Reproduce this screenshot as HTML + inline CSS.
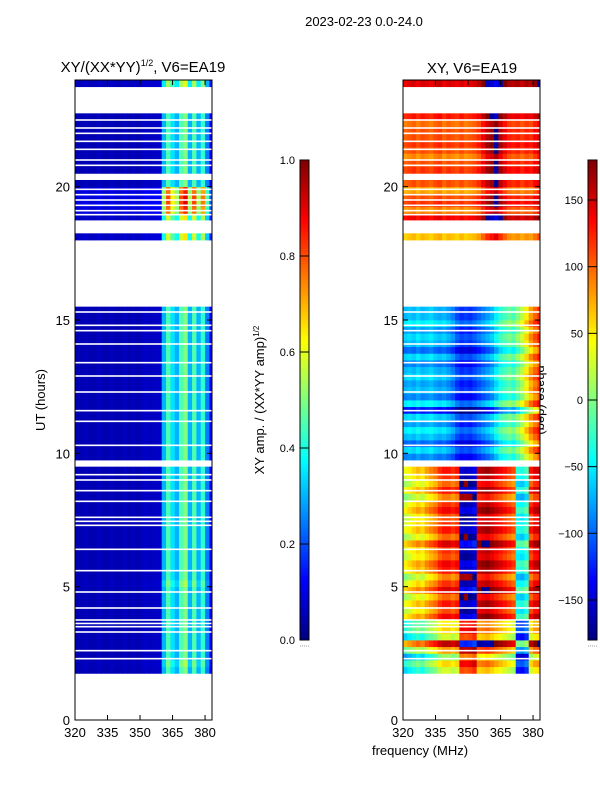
<!DOCTYPE html>
<html><head><meta charset="utf-8"><style>
body{margin:0;background:#fff;}
svg{display:block;font-family:"Liberation Sans","DejaVu Sans",sans-serif;}
</style></head><body>
<svg id="fig" width="600" height="800" viewBox="0 0 600 800" xmlns="http://www.w3.org/2000/svg">
<text x="364" y="26" font-size="13" text-anchor="middle">2023-02-23 0.0-24.0</text>
<text x="143" y="72" font-size="15" text-anchor="middle">XY/(XX*YY)<tspan font-size="9" dy="-6">1/2</tspan><tspan dy="6">, V6=EA19</tspan></text>
<text x="472" y="73" font-size="15" text-anchor="middle">XY, V6=EA19</text>
<text transform="translate(45,400) rotate(-90)" font-size="13" text-anchor="middle">UT (hours)</text>
<text x="420" y="755" font-size="13" text-anchor="middle">frequency (MHz)</text>
<text transform="translate(264,400) rotate(-90)" font-size="13" text-anchor="middle">XY amp. / (XX*YY amp)<tspan font-size="8" dy="-5">1/2</tspan></text>
<text transform="translate(537,400) rotate(90)" font-size="13" text-anchor="middle">phase (deg)</text>
<g id="left"></g>
<g id="right"></g>
<g id="cb"></g>
<g id="axes"></g>
</svg>
<script>
// time rows: 96 rows of 0.25 h; 1 = data present
const rowFlags = [0,0,0,0,0,0,0,1,1,1,1,1,1,1,1,1,1,1,1,1,1,1,1,1,1,1,1,1,1,1,1,1,1,1,1,1,1,1,0,1,1,1,1,1,1,1,1,1,1,1,1,1,1,1,1,1,1,1,1,1,1,1,0,0,0,0,0,0,0,0,0,0,1,0,0,1,1,1,1,1,1,0,1,1,1,1,1,1,1,1,1,0,0,0,0,1];
// amplitude row gain
const ampGain = [1,1,1,1,1,1,1,1,1.1,1,1,1,1,1,1,1,1,1,1,1,1.1,1,1,1,1,1,1,1,1,1,1,1,1,1,1,1,1,1,1,1,1,1,1,1,1,1,1,1,1,1,1,1,1,1,1,1,1,1,1,1,1,1,1,1,1,1,1,1,1,1,1,1,1.3,1,1,1.3,1.7,1.8,1.8,1.7,1,1,1,1,1,1,1,1,1,1,1,1,1,1,1,1.2];
// frequency channels (MHz)
const freqs = [320,322,324,326,328,330,332,334,336,338,340,342,344,346,348,350,352,354,356,358,360,362,364,366,368,370,372,374,376,378,380,382];
const ampChan = [0.05,0.05,0.06,0.05,0.05,0.06,0.05,0.05,0.06,0.05,0.05,0.06,0.05,0.06,0.05,0.06,0.07,0.06,0.07,0.07,0.3,0.45,0.35,0.3,0.45,0.5,0.3,0.45,0.3,0.42,0.25,0.12];
// phase per channel for time bands (deg)
const phaseEarly = [30,40,50,60,50,70,80,90,110,120,120,110,120,-160,-165,-160,-150,150,155,160,150,140,130,120,110,100,-40,-45,-30,120,140,145];
const phaseMid = [-70,-65,-70,-60,-70,-65,-60,-70,-75,-70,-80,-90,-110,-120,-115,-120,-110,-100,-90,-80,-70,-50,-30,-20,-10,-20,0,20,50,80,100,120];
const phaseLate = [100,105,110,100,110,105,100,110,115,100,110,105,100,110,100,105,110,120,140,160,170,-175,160,140,125,120,125,115,125,120,135,150];
// per-row phase offset (deg)
const phaseOffset = [0,0,0,0,0,0,0,-90,-60,-110,-40,40,-90,-60,-70,20,-10,10,-20,30,0,-30,10,20,-10,0,30,-20,10,0,-10,20,0,-30,10,-20,0,10,0,-20,10,-30,0,20,-10,10,-60,20,-20,0,-10,10,0,-20,10,-30,0,10,-10,20,0,0,0,0,0,0,0,0,0,0,0,0,-40,0,0,30,-20,10,0,-30,0,0,10,0,-20,0,10,0,0,-10,20,0,0,0,0,40];
// thin white gap lines (hours)
const gapLines = [2.3,2.6,3.3,3.5,3.62,3.75,4.2,4.8,5.6,6.4,7.3,7.45,7.6,8.2,8.6,9.0,9.2,10.3,11.2,11.6,12.3,12.9,13.4,14.1,14.6,14.8,15.3,17.75,17.9,18.95,19.1,19.3,19.5,19.7,19.9,20.8,21.0,21.4,21.7,22.0,22.2,22.5];
const yTicks = [0,5,10,15,20];
const xTicks = [320,335,350,365,380];
const ampTicks = [0.0,0.2,0.4,0.6,0.8,1.0];
const phaseTicks = [-150,-100,-50,0,50,100,150];

const NS="http://www.w3.org/2000/svg";
const Y0=720,Y1=80,HMAX=24;
const y=h=>Y0-(h/HMAX)*(Y0-Y1);
const FMIN=320,FMAX=383.2;
function xs(x0,x1){return f=>x0+(f-FMIN)/(FMAX-FMIN)*(x1-x0);}
const xL=xs(75,212), xR=xs(403,540);
function jet(v){v=Math.max(0,Math.min(1,v));const c=t=>Math.round(255*Math.max(0,Math.min(1,1.5-Math.abs(4*v-t))));return `rgb(${c(3)},${c(2)},${c(1)})`;}
function mk(tag,at,parent){const e=document.createElementNS(NS,tag);for(const k in at)e.setAttribute(k,at[k]);parent.appendChild(e);return e;}
const gL=document.getElementById('left'),gR=document.getElementById('right'),gA=document.getElementById('axes'),gC=document.getElementById('cb');
function wrap(p){while(p>180)p-=360;while(p<-180)p+=360;return p;}
for(let r=0;r<rowFlags.length;r++){
  if(!rowFlags[r])continue;
  const yt=y((r+1)/4), yb=y(r/4);
  const h=r/4;
  const band = h<9.5?phaseEarly:(h<16?phaseMid:phaseLate);
  for(let c=0;c<freqs.length;c++){
    const f0=freqs[c], f1=Math.min(freqs[c]+2,FMAX);
    const a=ampChan[c]*ampGain[r];
    const e1=mk('rect',{x:xL(f0),y:yt,width:xL(f1)-xL(f0)+0.4,height:yb-yt+0.4,fill:jet(a)},gL);
    
    
    const p=wrap(band[c]+phaseOffset[r]);
    const e2=mk('rect',{x:xR(f0),y:yt,width:xR(f1)-xR(f0)+0.4,height:yb-yt+0.4,fill:jet((p+180)/360)},gR);
    
    
  }
}
for(const g of gapLines){
  for(const [x0,x1] of [[75,212],[403,540]]){
    const l=mk('rect',{x:x0,y:y(g)-0.8,width:x1-x0,height:1.6,fill:'#fff'},gA);
    
    
  }
}
for(const [x0,x1,sx,nm] of [[75,212,xL,'left'],[403,540,xR,'right']]){
  const fr=mk('rect',{x:x0,y:Y1,width:x1-x0,height:Y0-Y1,fill:'none',stroke:'#000','stroke-width':1},gA);
  
  
  for(const t of yTicks){
    mk('line',{x1:x0,x2:x0+5,y1:y(t),y2:y(t),stroke:'#000'},gA);
    mk('line',{x1:x1,x2:x1-5,y1:y(t),y2:y(t),stroke:'#000'},gA);
    const tx=mk('text',{x:x0-5,y:y(t)+5,'font-size':13,'text-anchor':'end'},gA);
    tx.textContent=t;
    
    
  }
  for(const t of xTicks){
    mk('line',{x1:sx(t),x2:sx(t),y1:Y0,y2:Y0-5,stroke:'#000'},gA);
    mk('line',{x1:sx(t),x2:sx(t),y1:Y1,y2:Y1+5,stroke:'#000'},gA);
    const tx=mk('text',{x:sx(t),y:Y0+17,'font-size':13,'text-anchor':'middle'},gA);
    tx.textContent=t;
    
    
  }
}
const CB0=640,CB1=160;
for(const [x0,lo,hi,ticks,nm,fmt] of [[300,0,1,ampTicks,'amp',v=>v.toFixed(1)],[588,-180,180,phaseTicks,'phase',v=>v<0?'\u2212'+(-v):String(v)]]){
  const cy=v=>CB0-(v-lo)/(hi-lo)*(CB0-CB1);
  for(let i=0;i<120;i++){
    const v0=i/120,v1=(i+1)/120;
    mk('rect',{x:x0,y:CB0-v1*(CB0-CB1),width:9,height:(CB0-CB1)/120+0.5,fill:jet((v0+v1)/2)},gC);
  }
  const fr=mk('rect',{x:x0,y:CB1,width:9,height:CB0-CB1,fill:'none',stroke:'#000'},gC);
  
  
  for(const t of ticks){
    mk('line',{x1:x0,x2:x0+9,y1:cy(t),y2:cy(t),stroke:'#000'},gC);
    const tx=mk('text',{x:x0-5,y:cy(t)+4,'font-size':11,'text-anchor':'end'},gC);
    tx.textContent=fmt(t);
    
    
  }
  mk('line',{x1:x0,x2:x0+9,y1:646,y2:646,stroke:'#999','stroke-dasharray':'1,1'},gC);
}
</script>
</body></html>
